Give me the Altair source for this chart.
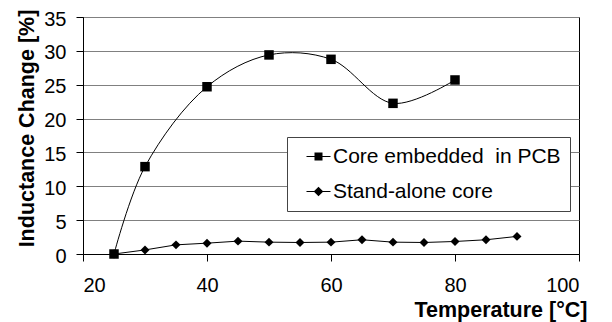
import altair as alt
import pandas as pd

series_names = ["Core embedded\u00a0 in PCB", "Stand-alone core"]
temp_pcb = [25, 30, 40, 50, 60, 70, 80]
ind_pcb = [0.0, 12.9, 24.7, 29.4, 28.75, 22.25, 25.7]
temp_core = [25, 30, 35, 40, 45, 50, 55, 60, 65, 70, 75, 80, 85, 90]
ind_core = [0.0, 0.6, 1.35, 1.6, 1.9, 1.75, 1.7, 1.75, 2.1, 1.75, 1.7, 1.85, 2.1, 2.6]
x_ticks = [20, 40, 60, 80, 100]
y_ticks = [0, 5, 10, 15, 20, 25, 30, 35]

pcb = pd.DataFrame({"t": temp_pcb, "v": ind_pcb, "series": series_names[0]})
core = pd.DataFrame({"t": temp_core, "v": ind_core, "series": series_names[1]})
legend_df = pd.DataFrame({"t": [25, 25], "v": [0, 0], "series": series_names})

FONT = "Liberation Sans"

x = alt.X("t:Q", scale=alt.Scale(domain=[20, 100], nice=False),
          axis=alt.Axis(values=x_ticks, title="Temperature [°C]", grid=False,
                        titleAlign="right", titleX=504, titleY=62,
                        titleBaseline="alphabetic", labelPadding=14))
y = alt.Y("v:Q", scale=alt.Scale(domain=[0, 35], nice=False),
          axis=alt.Axis(values=y_ticks, title="Inductance Change [%]", grid=True,
                        titleAngle=270, titleX=-67, titleY=111, titleBaseline="top",
                        titleAlign="center", labelPadding=10, labelOffset=2))

line_core = alt.Chart(core).mark_line(color="black", strokeWidth=1).encode(x=x, y=y)
pts_core = alt.Chart(core).mark_point(filled=True, color="black", opacity=1,
                                      shape="diamond", size=80).encode(x=x, y=y)
line_pcb = alt.Chart(pcb).mark_line(color="black", strokeWidth=1,
                                    interpolate="catmull-rom").encode(x=x, y=y)
pts_pcb = alt.Chart(pcb).mark_point(filled=True, color="black", opacity=1,
                                    shape="square", size=90).encode(x=x, y=y)

sq_path = "M-3,-0.13H3V0.13H-3ZM-1,-1H1V1H-1Z"
dm_path = "M-3,-0.13H3V0.13H-3ZM-1.2,0L0,-1.2L1.2,0L0,1.2Z"
legend_layer = alt.Chart(legend_df).transform_filter("false").mark_point(
    filled=True, color="black", opacity=1, size=64
).encode(
    x=x, y=y,
    shape=alt.Shape("series:N",
                    scale=alt.Scale(domain=series_names, range=[sq_path, dm_path]),
                    legend=alt.Legend(title=None, orient="none", legendX=204, legendY=120,
                                      direction="vertical", padding=9,
                                      strokeColor="#444", fillColor="white",
                                      labelFontSize=21, labelFont=FONT, labelColor="black",
                                      labelOffset=4, symbolOffset=12,
                                      symbolSize=64, symbolFillColor="black",
                                      symbolStrokeColor="black", symbolStrokeWidth=0,
                                      symbolOpacity=1, rowPadding=13, labelLimit=400))
)

chart = alt.layer(line_core, pts_core, line_pcb, pts_pcb, legend_layer).properties(
    width=496, height=237,
    background="white",
    autosize=alt.AutoSizeParams(type="none"),
    padding={"left": 75, "top": 9, "right": 25, "bottom": 68},
).configure_view(stroke="black", strokeWidth=1).configure_axis(
    labelFont=FONT, labelFontSize=20, labelColor="black",
    titleFont=FONT, titleFontSize=21.5, titleFontWeight="bold", titleColor="black",
    domainColor="black", tickColor="black", tickSize=7,
    gridColor="#808080", gridWidth=1,
)

chart.save("out.html", embed_options={"renderer": "svg", "actions": False})
